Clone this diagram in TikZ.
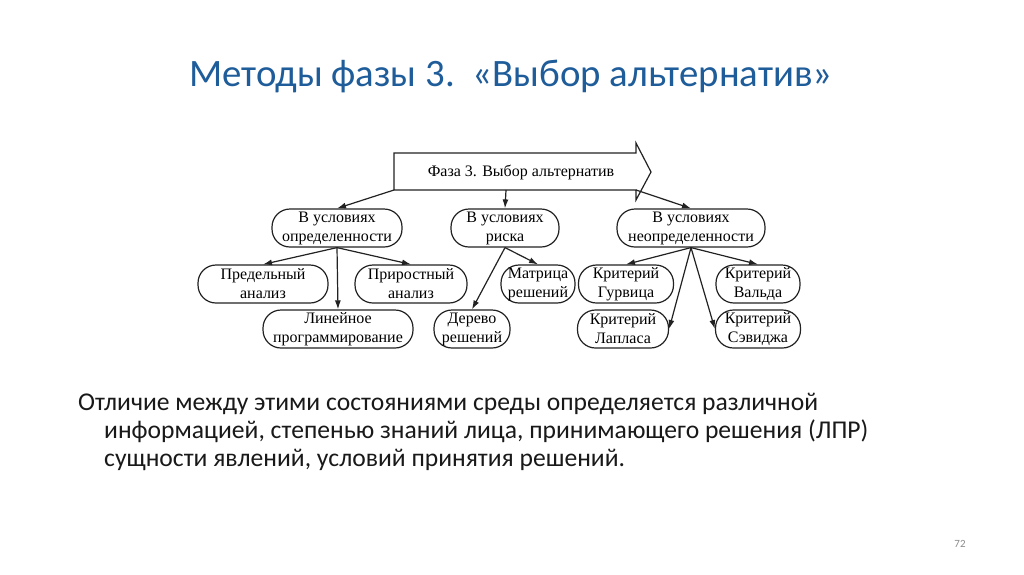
\documentclass[tikz,border=0pt]{standalone}
\usepackage{fontspec}
\setmainfont{Carlito}
\newfontfamily\serifru{Liberation Serif}
\usetikzlibrary{arrows.meta}
\definecolor{titleblue}{HTML}{1E5C9A}
\definecolor{linegray}{HTML}{222222}
\definecolor{numgray}{HTML}{8C8C8C}
\begin{document}
\begin{tikzpicture}[x=1pt,y=-1pt,
  box/.style={draw=linegray, line width=1.2pt, rounded corners=18pt,
    font=\serifru\fontsize{16}{19}\selectfont, align=center,
    inner sep=0pt, minimum height=38pt},
  conn/.style={draw=linegray, line width=1.2pt, -{Latex[length=9pt,width=6pt]}},
  body/.style={anchor=base west, inner sep=0pt, font=\fontsize{25.6}{28}\selectfont, text=black!90}]
\useasboundingbox[fill=white] (0,0) rectangle (1024,574);

% title
\node[anchor=base, inner sep=0pt, text=titleblue, font=\fontsize{38.8}{46}\selectfont] (title) at (511,86)
  {Методы фазы 3.\ \ «Выбор альтернатив»};

% big arrow
\draw[draw=linegray, line width=1.2pt, fill=white]
  (394,153) -- (636,153) -- (636,143) -- (651,172) -- (636,200) -- (636,190) -- (394,190) -- cycle;
\node[inner sep=0pt, font=\serifru\fontsize{16}{19}\selectfont] (phase) at (521,172) {Фаза 3. Выбор альтернатив};
\coordinate (pL) at (394,190);
\coordinate (pM) at (506,190);
\coordinate (pR) at (636,190);

% level 1
\node[box, minimum width=130pt] (opr) at (337,228) {В условиях\\определенности};
\node[box, minimum width=108pt] (risk) at (505,228) {В условиях\\риска};
\node[box, minimum width=148pt] (neop) at (691,228) {В условиях\\неопределенности};

% level 2
\node[box, minimum width=130pt] (pred) at (263,284) {Предельный\\анализ};
\node[box, minimum width=112pt] (prir) at (411,284) {Приростный\\анализ};
\node[box, minimum width=150pt] (lin) at (338,329) {Линейное\\программирование};
\node[box, minimum width=74pt] (matr) at (538,284) {Матрица\\решений};
\node[box, minimum width=76pt] (derevo) at (472,329) {Дерево\\решений};
\node[box, minimum width=95pt] (gur) at (626,284) {Критерий\\Гурвица};
\node[box, minimum width=84pt] (vald) at (758,284) {Критерий\\Вальда};
\node[box, minimum width=91pt] (lapl) at (623,329) {Критерий\\Лапласа};
\node[box, minimum width=85pt] (sev) at (758,329) {Критерий\\Сэвиджа};

% connectors
\draw[conn] (pL) -- (opr.north);
\draw[conn] (pM) -- (risk.north);
\draw[conn] (pR) -- (neop.north);

\draw[conn] (opr.south) -- (pred.north);
\draw[conn] (opr.south) -- (prir.north);
\draw[conn] (opr.south) -- (lin.north);

\draw[conn] (risk.south) -- (matr.north);
\draw[conn] (risk.south) -- (derevo.north);

\draw[conn] (neop.south) -- (gur.north);
\draw[conn] (neop.south) -- (vald.north);
\draw[conn] (neop.south) -- (lapl.east);
\draw[conn] (neop.south) -- (sev.west);

% body text
\node[body] (b1) at (78,410) {Отличие между этими состояниями среды определяется различной};
\node[body] (b2) at (104,438) {информацией, степенью знаний лица, принимающего решения (ЛПР)};
\node[body] (b3) at (104,466) {сущности явлений, условий принятия решений.};

% page number
\node[inner sep=0pt, text=numgray, font=\fontsize{11}{13}\selectfont] (pnum) at (960,544) {72};
\end{tikzpicture}
\end{document}
